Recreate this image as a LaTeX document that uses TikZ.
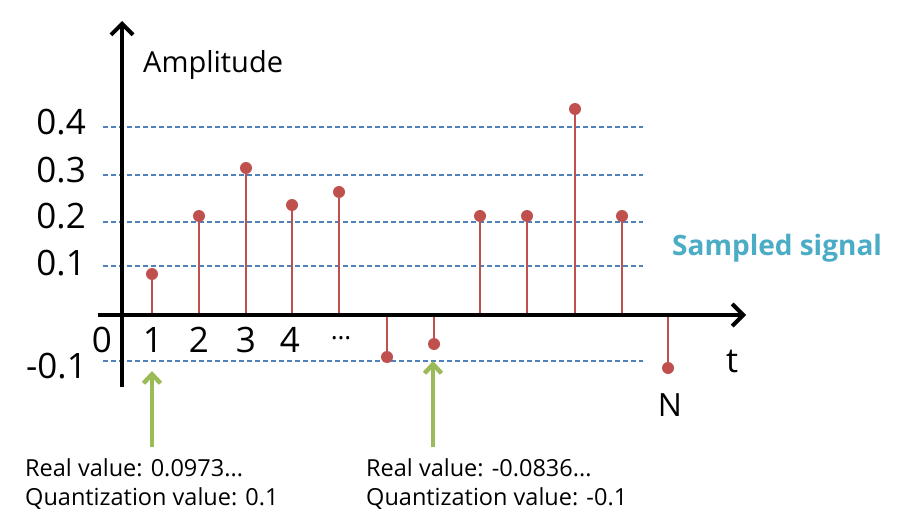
\documentclass[tikz,border=0pt]{standalone}
\usepackage{fontspec}
\setmainfont{Open Sans}
\usetikzlibrary{arrows.meta}
\definecolor{stemred}{HTML}{C0504D}
\definecolor{levelblue}{HTML}{4F81BD}
\definecolor{pointgreen}{HTML}{9BBB59}
\definecolor{signalaqua}{HTML}{4BACC6}

\begin{document}
\begin{tikzpicture}[x=1pt,y=-1pt,every node/.style={inner sep=0pt},
  axis/.style={line width=4pt,-{Straight Barb[length=11pt,width=22pt,line width=4pt]}},
  level/.style={levelblue,line width=1.4pt,dash pattern=on 5pt off 3pt},
  stem/.style={stemred,line width=1.8pt},
  sample/.style={circle,fill=stemred,minimum size=12pt},
  pointer/.style={pointgreen,line width=4.5pt,-{Straight Barb[length=9pt,width=17pt,line width=4.5pt]}},
  bignum/.style={font=\fontsize{35}{40}\selectfont},
  note/.style={anchor=base west,font=\fontsize{23.5}{28}\selectfont}]
\useasboundingbox (0,0) rectangle (900,527);
%
\foreach \name/\yy in {l4/127,l3/175,l2/222,l1/266,lm/361}{
  \coordinate (\name a) at (103,\yy);
  \coordinate (\name b) at (643,\yy);
  \draw[level] (\name a) -- (\name b);
}
\node[bignum,anchor=east] (v4) at (86,122) {0.4};
\node[bignum,anchor=east] (v3) at (86,170) {0.3};
\node[bignum,anchor=east] (v2) at (86,216) {0.2};
\node[bignum,anchor=east] (v1) at (86,263) {0.1};
\node[bignum,anchor=east] (vm) at (87,366) {-0.1};
%
\foreach \i/\xx/\yy in {1/152/274,2/199/216,3/246/168,4/292/205,5/339/192,6/387/357,
    7/434/344,8/480/216,9/527/216,10/575/109,11/622/216,12/668/368}{
  \coordinate (b\i) at (\xx,315);
  \node[sample] (s\i) at (\xx,\yy) {};
  \draw[stem] (b\i) -- (s\i.center);
}
%
\coordinate (xstart) at (98,315);
\coordinate (xend) at (746,315);
\coordinate (ystart) at (122,387);
\coordinate (yend) at (122,21);
\draw[axis] (xstart) -- (xend);
\draw[axis] (ystart) -- (yend);
%
\node[bignum] (t0) at (102,340) {0};
\foreach \n/\xx in {1/153,2/199,3/246,4/290}
  \node[bignum] (t\n) at (\xx,340) {\n};
\node[font=\fontsize{26}{30}\selectfont] (tdots) at (341,338) {\dots};
\node[font=\fontsize{34}{40}\selectfont] (tlab) at (732,361) {t};
\node[font=\fontsize{32}{38}\selectfont] (nlab) at (670,405) {N};
\node[anchor=base west,font=\fontsize{29}{35}\selectfont] (amp) at (143,73) {Amplitude};
\node[anchor=base west,font=\bfseries\fontsize{28}{34}\selectfont,text=signalaqua] (sig) at (672,255) {Sampled signal};
%
\coordinate (p1a) at (152,447);
\coordinate (p1b) at (152,371);
\coordinate (p2a) at (433,447);
\coordinate (p2b) at (433,361);
\draw[pointer] (p1a) -- (p1b);
\draw[pointer] (p2a) -- (p2b);
%
\node[note] (r1) at (25,476) {Real value: 0.0973...};
\node[note] (q1) at (25,505) {Quantization value: 0.1};
\node[note] (r2) at (366,476) {Real value: -0.0836...};
\node[note] (q2) at (366,505) {Quantization value: -0.1};
\end{tikzpicture}
\end{document}
